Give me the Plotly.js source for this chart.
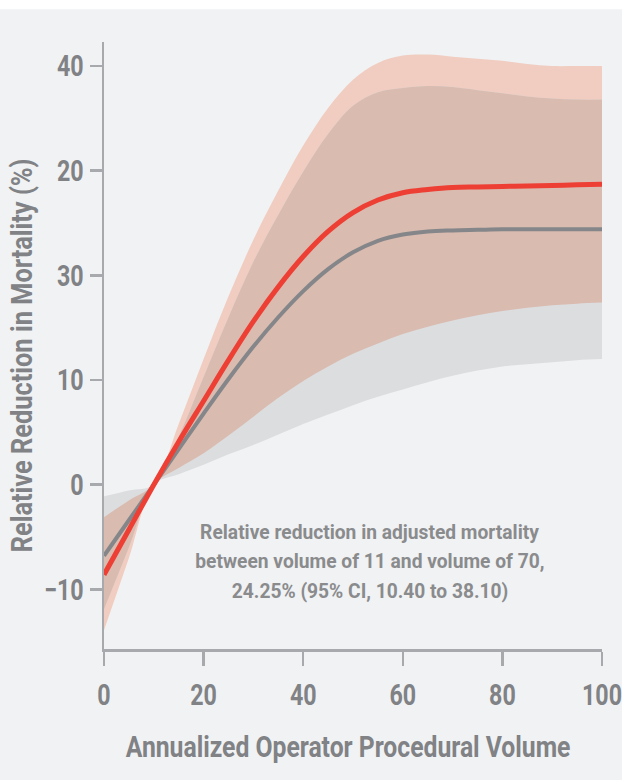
<!DOCTYPE html>
<html>
<head>
<meta charset="utf-8">
<script src="https://cdn.plot.ly/plotly-3.0.1.min.js"></script>
<style>
  html, body { margin: 0; padding: 0; background: #f1f2f4; }
  #chart { width: 622px; height: 780px; }
</style>
</head>
<body>
<div id="chart"></div>
<script>
// ---- Data ----
const volume = [0, 5, 10, 15, 20, 25, 30, 35, 40, 45, 50, 55, 60, 65, 70, 75, 80, 85, 90, 95, 100];

const redMean  = [-8.6, -4.3, 0, 4.1, 8.0, 11.9, 15.6, 18.9, 21.8, 24.2, 26.0, 27.2, 27.9, 28.2, 28.4, 28.45, 28.5, 28.55, 28.6, 28.65, 28.7];
const redUpper = [-3.1, -1.5, 0, 5.8, 12.0, 18.0, 23.4, 28.1, 32.4, 36.0, 38.7, 40.3, 41.0, 41.1, 40.9, 40.7, 40.5, 40.2, 40.0, 40.0, 40.0];
const redLower = [-13.9, -7.0, 0, 1.6, 3.0, 4.7, 6.5, 8.3, 9.9, 11.3, 12.5, 13.5, 14.4, 15.1, 15.7, 16.2, 16.6, 16.9, 17.15, 17.3, 17.4];

const grayMean  = [-6.8, -3.4, 0, 3.4, 6.8, 10.1, 13.2, 16.0, 18.5, 20.6, 22.2, 23.3, 23.9, 24.2, 24.3, 24.35, 24.4, 24.4, 24.4, 24.4, 24.4];
const grayUpper = [-1.1, -0.55, 0, 4.6, 10.3, 16.0, 21.3, 25.8, 29.9, 33.5, 36.2, 37.5, 37.9, 38.1, 38.0, 37.7, 37.4, 37.1, 36.9, 36.8, 36.8];
const grayLower = [-11.9, -6.0, 0, 1.0, 1.9, 2.9, 3.8, 4.8, 5.8, 6.7, 7.6, 8.4, 9.1, 9.8, 10.4, 10.9, 11.3, 11.5, 11.7, 11.9, 12.0];

const yTickVals = [40, 30, 20, 10, 0, -10];
const yTickText = ['40', '20', '30', '10', '0', '\u221210'];
const xTickVals = [0, 20, 40, 60, 80, 100];

const xTitle = 'Annualized Operator Procedural Volume';
const yTitle = 'Relative Reduction in Mortality (%)';
const noteLines = [
  'Relative reduction in adjusted mortality',
  'between volume of 11 and volume of 70,',
  '24.25% (95% CI, 10.40 to 38.10)'
];

// ---- Derived overlap of the two bands ----
const overlapUpper = volume.map((_, i) => Math.min(redUpper[i], grayUpper[i]));
const overlapLower = volume.map((_, i) => Math.max(redLower[i], grayLower[i]));

const FONT = 'Roboto, "Liberation Sans", sans-serif';
const TXT = '#808285';
const AX = '#a7a9ac';
const BG = '#f1f2f4';

function band(lower, upper, color) {
  return [
    { x: volume, y: lower, type: 'scatter', mode: 'lines', line: { width: 0, shape: 'spline', smoothing: 1 }, hoverinfo: 'skip', showlegend: false },
    { x: volume, y: upper, type: 'scatter', mode: 'lines', fill: 'tonexty', fillcolor: color, line: { width: 0, shape: 'spline', smoothing: 1 }, hoverinfo: 'skip', showlegend: false }
  ];
}

const traces = [
  ...band(redLower, redUpper, '#f0cdc0'),
  ...band(grayLower, grayUpper, '#dcdddf'),
  ...band(overlapLower, overlapUpper, '#d9bbb0'),
  { x: volume, y: grayMean, type: 'scatter', mode: 'lines', line: { color: '#858689', width: 4, shape: 'spline' }, showlegend: false },
  { x: volume, y: redMean, type: 'scatter', mode: 'lines', line: { color: '#ee3f34', width: 5, shape: 'spline' }, showlegend: false }
];

const annotations = noteLines.map((t, i) => ({
  text: t, xref: 'x', yref: 'y', x: 53.5, y: -4.5 - i * 2.82,
  showarrow: false, xanchor: 'center', yanchor: 'middle',
  font: { family: FONT, size: 20, color: '#8a8b8d', weight: 'bold' }
}));
annotations.push({
  text: yTitle, xref: 'paper', yref: 'paper', x: -0.167, y: 0.484,
  textangle: -90, showarrow: false, xanchor: 'center', yanchor: 'middle',
  font: { family: FONT, size: 30, color: TXT, weight: 'bold' }
});
annotations.push({
  text: xTitle, xref: 'paper', yref: 'paper', x: 0.49, y: -0.160,
  showarrow: false, xanchor: 'center', yanchor: 'middle',
  font: { family: FONT, size: 30, color: TXT, weight: 'bold' }
});

const layout = {
  width: 622, height: 780,
  margin: { l: 104, r: 20, t: 42, b: 131, pad: 0 },
  paper_bgcolor: BG, plot_bgcolor: 'rgba(0,0,0,0)',
  showlegend: false,
  xaxis: {
    range: [0, 100], tickvals: xTickVals, ticks: 'outside', ticklen: 14, tickwidth: 2.5, tickcolor: AX,
    showline: true, linecolor: AX, linewidth: 2.5, showgrid: false, zeroline: false,
    ticklabelstandoff: 5, ticklabeloverflow: 'allow',
    tickfont: { family: FONT, size: 29, color: TXT, weight: 'bold' }
  },
  yaxis: {
    range: [-15.7, 42.3], tickvals: yTickVals, ticktext: yTickText, ticks: 'outside', ticklen: 12, tickwidth: 2.5, tickcolor: AX,
    showline: true, linecolor: AX, linewidth: 2.5, showgrid: false, zeroline: false,
    ticklabelstandoff: 0, ticklabeloverflow: 'allow',
    tickfont: { family: FONT, size: 29, color: TXT, weight: 'bold' }
  },
  shapes: [
    { type: 'rect', xref: 'paper', yref: 'paper', x0: -0.25, x1: 1.1, y0: 1.054, y1: 1.08, fillcolor: '#ffffff', line: { width: 0 }, layer: 'below' }
  ],
  annotations: annotations
};

// Horizontally condense text (the reference uses a condensed typeface)
function condense(el, s) {
  const x = parseFloat(el.getAttribute('x')) || 0;
  const t = el.getAttribute('transform') || '';
  el.setAttribute('transform', (t + ' translate(' + x + ',0) scale(' + s + ',1) translate(' + (-x) + ',0)').trim());
}

Plotly.newPlot('chart', traces, layout, { displayModeBar: false, staticPlot: true }).then(function (gd) {
  const ticks = Array.from(gd.querySelectorAll('.xtick text, .ytick text'));
  const ref = ticks.find(el => el.textContent === '100');
  const sTick = ref ? 40 / ref.getComputedTextLength() : 0.82;
  ticks.forEach(el => condense(el, sTick));

  const annTexts = Array.from(gd.querySelectorAll('.annotation-text'));
  const byText = txt => annTexts.find(el => el.textContent === txt);
  const xt = byText(xTitle), yt = byText(yTitle), n1 = byText(noteLines[0]);
  if (xt) condense(xt, 445 / xt.getComputedTextLength());
  if (yt) condense(yt, 394 / yt.getComputedTextLength());
  if (n1) {
    const sN = 339 / n1.getComputedTextLength();
    noteLines.forEach(l => { const e = byText(l); if (e) condense(e, sN); });
  }
});
</script>
</body>
</html>
